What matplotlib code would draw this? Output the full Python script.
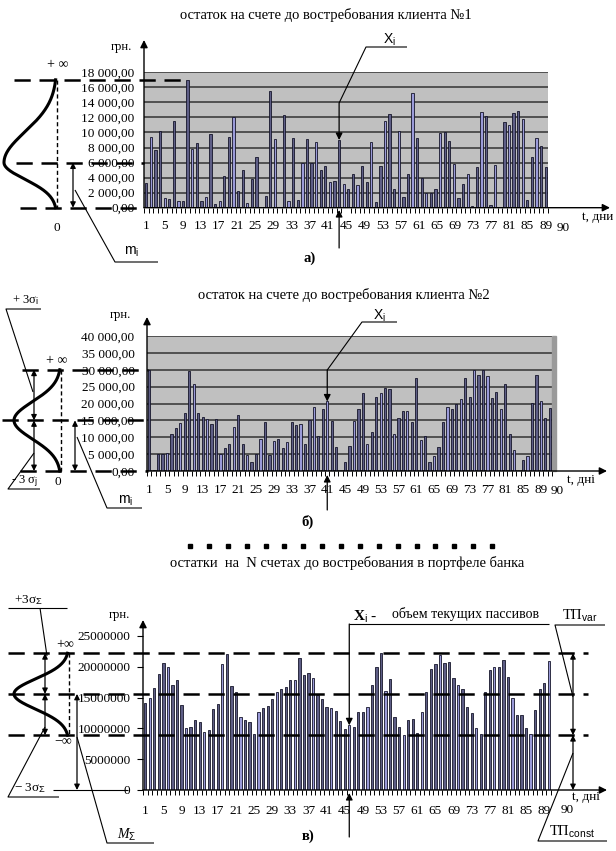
import numpy as np
import matplotlib
matplotlib.use("Agg")
import matplotlib.pyplot as plt
from matplotlib.patches import Rectangle

# values
days = [str(d) for d in range(1, 90, 4)]

client_1 = [3250, 9400, 7700, 10200, 1250, 1150, 11550, 930, 850, 17000,
            7800, 8600, 850, 1400, 9750, 530, 930, 4270, 9400, 12050,
            2220, 4980, 620, 3820, 6700, 0, 1550, 15500, 9070, 0,
            12350, 850, 9330, 1020, 5900, 9100, 5900, 8750, 5020, 5600,
            3380, 3550, 9000, 3150, 2440, 4490, 2980, 5600, 3380, 8710,
            760, 5600, 11550, 12400, 2440, 10180, 1420, 4490, 15200, 9290,
            3910, 1950, 1950, 2450, 9870, 10040, 8840, 5820, 1240, 3150,
            4490, 220, 5380, 12670, 12220, 400, 5640, 90, 11380, 10980,
            12580, 12840, 11730, 1020, 6800, 9330, 8220, 5380]

client_2 = [30000, 300, 5000, 5000, 5200, 11000, 12600, 14100, 17100, 29500,
            25800, 17100, 15900, 15500, 13900, 15500, 5000, 6900, 8100, 12900,
            16600, 7900, 4700, 2600, 5100, 9400, 14400, 4800, 9000, 9400,
            6700, 8500, 14500, 13500, 13900, 7900, 15200, 18900, 10500, 18500,
            20600, 14900, 7100, 0, 2700, 7500, 14900, 18400, 23200, 8100,
            11600, 21800, 23100, 24500, 24300, 11100, 15800, 17700, 17700, 14400,
            27600, 9300, 10400, 2700, 4300, 7100, 14500, 18900, 18300, 19800,
            21400, 27600, 21800, 29800, 28300, 29800, 28200, 21700, 23500, 18400,
            25900, 11000, 6200, 0, 3400, 4300, 20200, 28300, 20600, 15800,
            18800]

# portfolio, millions of hryvnia
portfolio_mln = [14.07, 14.99, 16.5, 18.78, 20.56, 19.97, 16.99, 17.8, 13.8, 10.01,
                 10.28, 11.36, 10.98, 9.36, 9.8, 13.1, 13.96, 20.4, 22.02, 16.88,
                 15.96, 11.9, 11.36, 10.98, 9.15, 12.6, 13.37, 13.69, 14.83, 15.96,
                 16.34, 16.77, 17.8, 17.8, 21.48, 18.72, 18.94, 18.13, 15.37, 14.83,
                 13.53, 13.26, 12.88, 11.15, 9.96, 10.5, 10.28, 12.6, 12.7, 13.5,
                 17.0, 20.0, 22.2, 16.1, 17.97, 11.9, 10.28, 8.93, 11.4, 11.6,
                 9.2, 12.6, 15.96, 19.6, 20.45, 21.86, 20.56, 20.83, 18.13, 17.0,
                 16.34, 13.53, 12.45, 10.0, 9.1, 15.86, 19.48, 19.97, 19.97, 21.05,
                 18.4, 14.99, 12.12, 12.18, 10.0, 9.1, 12.99, 16.34, 17.3, 21.0]
portfolio = [v * 1e6 for v in portfolio_mln]

# reference levels (top, mean, bottom) and the day the X_i arrow points at
levels_1 = [17000, 6000, 0]
levels_2 = [30000, 15000, 0]
levels_n = [22.2e6, 15.6e6, 8.9e6]
marked_1, marked_2, marked_n = 43, 41, 46

W, H = 616, 851
plt.rcParams['font.family'] = ['Liberation Serif', 'DejaVu Serif']
plt.rcParams['mathtext.fontset'] = 'custom'
plt.rcParams['mathtext.rm'] = 'Liberation Sans'
plt.rcParams['mathtext.it'] = 'Liberation Serif:italic'
plt.rcParams['mathtext.bf'] = 'Liberation Serif:bold'

fig = plt.figure(figsize=(W / 100, H / 100), dpi=100)


def add_ax(left, top, right, bottom):
    return fig.add_axes([left / W, 1 - bottom / H, (right - left) / W, (bottom - top) / H])


ax1 = add_ax(144, 72.3, 548, 207.7)
ax2 = add_ax(147, 336, 552, 471)
ax3 = add_ax(143, 636, 551, 790)
ov = fig.add_axes([0, 0, 1, 1], zorder=10)
ov.set_xlim(0, W)
ov.set_ylim(H, 0)
ov.axis('off')
ov.patch.set_alpha(0)


def pix(ax, x, y):
    X, Y = ax.transData.transform((x, y))
    return X, H - Y


def money(v):
    return f"{v:,.2f}".replace(",", " ").replace(".", ",")


def panel(ax, vals, top, step, gray, fmt, light_every, ypad, xpad):
    n = len(vals)
    x = np.arange(1, n + 1)
    cols = ['#9a9ad8' if i % light_every == 1 else '#5e5e86' for i in range(n)]
    ax.bar(x, vals, width=0.5, color=cols, edgecolor='#15152a', linewidth=0.6, zorder=3)
    ax.set_xlim(0.5, n + 0.5)
    ax.set_ylim(0, top)
    ticks = np.arange(0, top + 1, step)
    ax.set_yticks(ticks)
    ax.set_yticklabels([fmt(v) for v in ticks], fontsize=9.5)
    if gray:
        ax.set_facecolor('#c0c0c0')
        ax.yaxis.grid(True, color='#333333', lw=1.1)
        ax.tick_params(axis='y', length=0, pad=ypad)
    else:
        ax.patch.set_alpha(0)
        ax.tick_params(axis='y', length=4, width=0.8, pad=ypad)
    ax.set_axisbelow(True)
    for s in ax.spines.values():
        s.set_visible(False)
    if n >= 89:
        ax.set_xticks(np.arange(1, 90, 4))
    else:
        ax.set_xticks(np.linspace(1, n, len(days)))
    ax.set_xticklabels(days, fontsize=9.5)
    ax.set_xticks(np.arange(0.5, n + 1), minor=True)
    ax.tick_params(axis='x', which='major', length=0, pad=xpad)
    ax.tick_params(axis='x', which='minor', length=3.5, width=0.7)


panel(ax1, client_1, 18000, 2000, True, money, 3, 7, 9)
panel(ax2, client_2, 40000, 5000, True, money, 3, 9, 9.7)
panel(ax3, portfolio, 25000000, 5000000, False, lambda v: str(int(v)), 4, 5, 11)
ax2.add_patch(Rectangle((1.0, 0), 0.009, 1, transform=ax2.transAxes,
                        color='#9a9a9a', clip_on=False, zorder=1))


def arrow(x1, y1, x2, y2, style='-|>', ms=10, lw=0.9):
    ov.annotate('', xy=(x2, y2), xytext=(x1, y1),
                arrowprops=dict(arrowstyle=style, color='k', lw=lw, mutation_scale=ms,
                                shrinkA=0, shrinkB=0))


def line(pts, lw=0.8):
    xs, ys = zip(*pts)
    ov.plot(xs, ys, color='k', lw=lw, solid_capstyle='butt')


def hdash(x1, x2, y):
    ov.plot([x1, x2], [y, y], color='k', lw=1.8, dashes=(6.5, 3.5))


def vdash(x, y1, y2):
    ov.plot([x, x], [y1, y2], color='k', lw=1.0, dashes=(3, 2))


def bell(ax, base, depth, lv):
    top, mid, bot = lv
    v = np.linspace(bot, top, 300)
    sig = np.where(v > mid, (top - mid) / 2.7, (mid - bot) / 2.7)
    xs = base - depth * np.exp(-0.5 * ((v - mid) / sig) ** 2)
    ys = [pix(ax, 1, t)[1] for t in v]
    ov.plot(xs, ys, color='k', lw=2.2)


def axes_arrows(ax, ytip, xtip):
    x0, y0 = pix(ax, 0.5, 0)
    arrow(x0, y0, x0, ytip, ms=11, lw=1.0)
    arrow(x0, y0, xtip, y0, ms=11, lw=1.0)


def txt(x, y, s, size=10, **kw):
    ov.text(x, y, s, fontsize=size, ha=kw.pop('ha', 'center'), va=kw.pop('va', 'center'), **kw)


# ---------- а) ----------
axes_arrows(ax1, 40, 610)
ytop = pix(ax1, 1, levels_1[0])[1]
ymid = pix(ax1, 1, levels_1[1])[1]
ybot = pix(ax1, 1, levels_1[2])[1]
peak_x = pix(ax1, int(np.argmax(client_1)) + 1, 0)[0]
hdash(14, peak_x, ytop)
hdash(16, 144, ymid)
hdash(20, 144, ybot)
vdash(57, ytop, ybot)
bell(ax1, 57, 53, levels_1)
arrow(73, ymid, 73, ybot, style='<|-|>', ms=8)
line([(75, 190), (115, 262), (158, 262)])
bx, by = pix(ax1, marked_1, client_1[marked_1 - 1])
line([(407, 47), (366, 47), (bx, 103)])
arrow(bx, 103, bx, by, ms=10)
arrow(bx, 248, bx, 210, ms=10)
txt(326, 15, 'остаток на счете до востребования клиента №1', 10.5)
txt(121, 47, 'грн.', 9)
txt(58, 65, '+ ∞', 10)
txt(57, 228, '0', 9.5)
txt(132, 252, r'm$_\mathrm{i}$', 10, family='Liberation Sans')
txt(389, 40, r'X$_\mathrm{i}$', 10, family='Liberation Sans')
txt(598, 217, 't, дни', 9.5)
txt(563, 228, '90', 9.5)
txt(310, 258, 'а)', 10.5, weight='bold')

# ---------- б) ----------
axes_arrows(ax2, 317, 607)
ytop = pix(ax2, 1, levels_2[0])[1]
ymid = pix(ax2, 1, levels_2[1])[1]
ybot = pix(ax2, 1, levels_2[2])[1]
hdash(22, 148, ytop)
hdash(2, 148, ymid)
hdash(20, 148, ybot)
vdash(61, ytop, ybot)
bell(ax2, 61, 47, levels_2)
arrow(34, ytop, 34, ymid, style='<|-|>', ms=8)
arrow(34, ymid, 34, ybot, style='<|-|>', ms=8)
arrow(75, ymid, 75, ybot, style='<|-|>', ms=8)
line([(41, 309), (6, 309), (33, 392)])
line([(40, 489), (8, 489), (34, 453)])
line([(77, 437), (107, 508), (142, 508)])
bx, by = pix(ax2, marked_2, client_2[marked_2 - 1])
line([(397, 322), (362, 322), (bx, 370)])
arrow(bx, 370, bx, by, ms=10)
arrow(bx, 510, bx, 475, ms=10)
txt(344, 295, 'остаток на счете до востребования клиента №2', 10.5)
txt(120, 315, 'грн.', 9)
txt(57, 360, '+ ∞', 10)
txt(58, 482, '0', 9.5)
txt(25, 300, r'+ 3σ$_\mathrm{i}$', 9)
txt(24, 481, r'- 3 σ$_\mathrm{j}$', 9)
txt(126, 501, r'm$_\mathrm{i}$', 10, family='Liberation Sans')
txt(379, 316, r'X$_\mathrm{i}$', 10, family='Liberation Sans')
txt(581, 480, 't, дні', 9.5)
txt(557, 491, '90', 9.5)
txt(308, 522, 'б)', 10.5, weight='bold')

# ---------- в) ----------
axes_arrows(ax3, 620, 607)
ytop = pix(ax3, 1, levels_n[0])[1]
ymid = pix(ax3, 1, levels_n[1])[1]
ybot = pix(ax3, 1, levels_n[2])[1]
yzero = pix(ax3, 1, 0)[1]
for yl in (ytop, ymid, ybot):
    hdash(8, 588, yl)
vdash(69, ytop, ybot)
bell(ax3, 69, 55, levels_n)
arrow(45, ytop, 45, ymid, style='<|-|>', ms=8)
arrow(45, ymid, 45, ybot, style='<|-|>', ms=8)
arrow(77, ymid, 77, yzero, style='<|-|>', ms=8)
arrow(573, ytop, 573, ybot, style='<|-|>', ms=8)
arrow(573, ybot, 573, yzero, style='<|-|>', ms=8)
line([(53, yzero), (128, yzero)])
line([(8, 608), (67, 608)])
line([(40, 608), (47, 656)])
line([(59, 797), (8, 797), (45, 727)])
line([(154, 843), (107, 843), (77, 737)])
line([(605, 625), (555, 625), (573, 697)])
line([(607, 841), (538, 841), (573, 753)])
bx, by = pix(ax3, marked_n, portfolio[marked_n - 1])
line([(549, 624), (bx, 624)])
arrow(bx, 624, bx, by, ms=10)
arrow(bx, 837, bx, 793, ms=10)
ov.plot(np.linspace(190, 492, 17), [546] * 17, 's', ms=2.2, color='k')
txt(347, 563, 'остатки  на  N счетах до востребования в портфеле банка', 10.5)
txt(119, 615, 'грн.', 9)
txt(65, 645, '+∞', 10)
txt(63, 742, '−∞', 10)
txt(28, 600, r'+3σ$_\Sigma$', 9.5)
txt(30, 788, r'− 3σ$_\Sigma$', 9.5)
txt(127, 835, r'$M_\Sigma$', 10)
txt(365, 617, r'$\mathbf{X}_\mathrm{i}$ -', 11)
txt(466, 614, 'объем текущих пассивов', 10)
txt(580, 616, r'ТП$_\mathrm{var}$', 10.5)
txt(572, 832, r'ТП$_\mathrm{const}$', 10.5)
txt(586, 797, 't, дні', 9.5)
txt(567, 810, '90', 9.5)
txt(308, 836, 'в)', 10.5, weight='bold')

fig.savefig('out.png', dpi=100)
